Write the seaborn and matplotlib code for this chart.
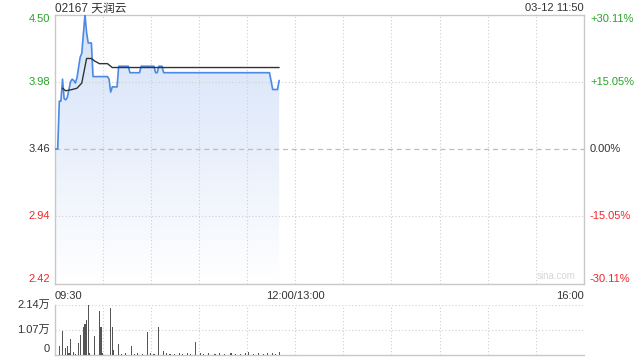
import numpy as np
import pandas as pd
import matplotlib
matplotlib.use("Agg")
import matplotlib.pyplot as plt
from matplotlib.colors import LinearSegmentedColormap
import matplotlib.transforms as mtransforms
import seaborn as sns

# ---------------- data ----------------
title = "02167 天润云"
stamp = "03-12 11:50"
prev_close = 3.46
price_ticks = [4.50, 3.98, 3.46, 2.94, 2.42]
pct_labels = ["+30.11%", "+15.05%", "0.00%", "-15.05%", "-30.11%"]
time_labels = ["09:30", "12:00/13:00", "16:00"]
vol_tick_labels = ["2.14万", "1.07万", "0"]
vol_ticks = [2.14, 1.07, 0]

# minutes since 09:30 (trading minutes, lunch break removed)
price_min = [0, 2, 3, 4, 5, 6, 7, 8, 10, 11, 12, 13, 14, 16, 17, 19, 20, 21, 23, 24,
             28, 33, 34, 35, 36, 39, 40, 46, 47, 53, 54, 62, 63, 64, 65, 67, 68,
             134, 136, 139, 140]
price_val = [3.46, 3.46, 3.83, 3.83, 4.00, 3.85, 3.84, 3.86, 3.98, 4.00, 3.99, 3.97, 4.01,
             4.17, 4.20, 4.50, 4.36, 4.28, 4.28, 4.02, 4.02, 4.02, 4.00, 3.90, 3.94, 3.94,
             4.10, 4.10, 4.05, 4.05, 4.10, 4.10, 4.05, 4.05, 4.10, 4.10, 4.05,
             4.05, 3.92, 3.92, 3.99]

avg_min = [5, 7, 11, 14, 17, 20, 23, 25, 28, 33, 35, 36, 140]
avg_val = [3.93, 3.91, 3.92, 3.93, 3.97, 4.16, 4.16, 4.14, 4.12, 4.12, 4.10, 4.09, 4.09]

vol_min = [3, 5, 7, 8, 9, 10, 12, 13, 15, 16, 18, 19, 20, 21, 22, 25, 28, 29, 30, 35, 36, 37,
           40, 42, 44, 48, 50, 52, 55, 58, 60, 62, 65, 68, 70, 72, 75, 78, 80, 83, 85, 88,
           91, 93, 96, 100, 103, 106, 110, 113, 116, 119, 121, 124, 127, 130, 133, 136, 138, 140]
vol_val = [0.36, 1.03, 0.26, 0.36, 0.05, 0.67, 0.09, 0.04, 0.51, 0.84, 1.21, 1.32, 1.50, 2.14,
           0.05, 0.80, 1.89, 1.18, 0.05, 2.02, 1.18, 0.20, 0.45, 0.04, 0.05, 0.35, 0.04, 0.05,
           0.04, 0.97, 0.05, 0.04, 1.19, 0.15, 0.05, 0.04, 0.04, 0.05, 0.04, 0.05, 0.04, 0.54,
           0.07, 0.04, 0.05, 0.04, 0.05, 0.04, 0.05, 0.04, 0.04, 0.05, 0.10, 0.04, 0.05, 0.04,
           0.05, 0.08, 0.04, 0.10]

price_df = pd.DataFrame({"minute": price_min, "price": price_val})
avg_df = pd.DataFrame({"minute": avg_min, "avg": avg_val})
vol_df = pd.DataFrame({"minute": vol_min, "vol": vol_val})

# ---------------- style ----------------
sns.set_theme(style="white")
FAM = ["Liberation Sans", "Noto Sans CJK SC", "DejaVu Sans"]
plt.rcParams["font.family"] = FAM

GREEN = "#27a327"
RED = "#f02828"
DARK = "#333333"
GRID = "#cfcfcf"
SPINE = "#c8c8c8"
FS = 8

fig = plt.figure(figsize=(6.4, 3.6), dpi=100)
ax = fig.add_axes([54.5 / 640, 1 - 283.5 / 360, (584 - 54.5) / 640, (283.5 - 14.5) / 360])
axv = fig.add_axes([54.5 / 640, 1 - 354.5 / 360, (584 - 54.5) / 640, (354.5 - 305) / 360])

xmax = 330
for a in (ax, axv):
    a.set_xlim(0, xmax)
    for s in a.spines.values():
        s.set_color(SPINE)
        s.set_linewidth(1)
    a.set_xticks([])
    a.set_yticks([])
    for m in range(30, xmax, 30):
        a.axvline(m, color=GRID, lw=0.8, ls=(0, (1, 2)), zorder=2)

ax.set_ylim(2.42, 4.50)

# horizontal grid
for t in price_ticks[1:-1]:
    if t == prev_close:
        ax.axhline(t, color="#bdbdbd", lw=0.9, ls=(0, (4, 3)), zorder=2)
    else:
        ax.axhline(t, color=GRID, lw=0.8, ls=(0, (1, 2)), zorder=2)

# gradient fill under price
poly = ax.fill_between(price_min, price_val, 2.42, color="none", lw=0)
cmap = LinearSegmentedColormap.from_list("g", ["#ffffff", "#d3e1f8"])
grad = np.linspace(0, 1, 256).reshape(-1, 1)
im = ax.imshow(grad, extent=[0, xmax, 2.42, 4.50], origin="lower", aspect="auto",
               cmap=cmap, zorder=1)
im.set_clip_path(poly.get_paths()[0], transform=ax.transData)

sns.lineplot(data=price_df, x="minute", y="price", ax=ax, color="#4a8ae6", lw=1.2, zorder=3)
sns.lineplot(data=avg_df, x="minute", y="avg", ax=ax, color="#333333", lw=1.0, zorder=4)
ax.set_xlabel("")
ax.set_ylabel("")
ax.set_xlim(0, xmax)
ax.set_ylim(2.42, 4.50)


def side_color(t):
    return GREEN if t > prev_close else (RED if t < prev_close else DARK)


# y labels left and right
ltrans = mtransforms.blended_transform_factory(fig.transFigure, ax.transData)
for i, (t, pl) in enumerate(zip(price_ticks, pct_labels)):
    va = "top" if i == 0 else ("bottom" if i == len(price_ticks) - 1 else "center")
    off = -0.012 if i == 0 else (0.012 if i == len(price_ticks) - 1 else 0)
    ax.text(50 / 640, t, f"{t:.2f}", transform=ltrans, ha="right", va=va,
            fontsize=FS, color=side_color(t))
    ax.text(590 / 640, t, pl, transform=ltrans, ha="left", va=va,
            fontsize=FS, color=side_color(t))

# time labels
trans = mtransforms.blended_transform_factory(ax.transData, fig.transFigure)
ypos = 1 - 296 / 360
ax.text(0, ypos, time_labels[0], transform=trans, ha="left", va="center", fontsize=FS, color=DARK)
ax.text(150, ypos, time_labels[1], transform=trans, ha="center", va="center", fontsize=FS, color=DARK)
ax.text(330, ypos, time_labels[2], transform=trans, ha="right", va="center", fontsize=FS, color=DARK)

# title and stamp
fig.text(55 / 640, 1 - 8.5 / 360, title, ha="left", va="center", fontsize=8.5, color=DARK)
fig.text(584 / 640, 1 - 8 / 360, stamp, ha="right", va="center", fontsize=FS, color=DARK)

# watermark
fig.text(556 / 640, 1 - 276 / 360, "sina.com", ha="center", va="center",
         fontsize=7, color="#d6d6d6")

# ---------------- volume ----------------
axv.set_ylim(0, 2.14)
axv.bar(vol_df["minute"], vol_df["vol"], width=0.7, color="#555555", linewidth=0, zorder=3)
for t in vol_ticks[:2]:
    axv.axhline(t, color=GRID, lw=0.8, ls=(0, (1, 2)), zorder=1)
vtrans = mtransforms.blended_transform_factory(fig.transFigure, axv.transData)
for t, lab in zip(vol_ticks, vol_tick_labels):
    axv.text(50 / 640, t, lab, transform=vtrans, ha="right",
             va="bottom" if t == 0 else "center", fontsize=FS, color=DARK)
axv.spines["top"].set_visible(False)
axv.spines["right"].set_visible(False)

fig.savefig("out.png", dpi=100)
